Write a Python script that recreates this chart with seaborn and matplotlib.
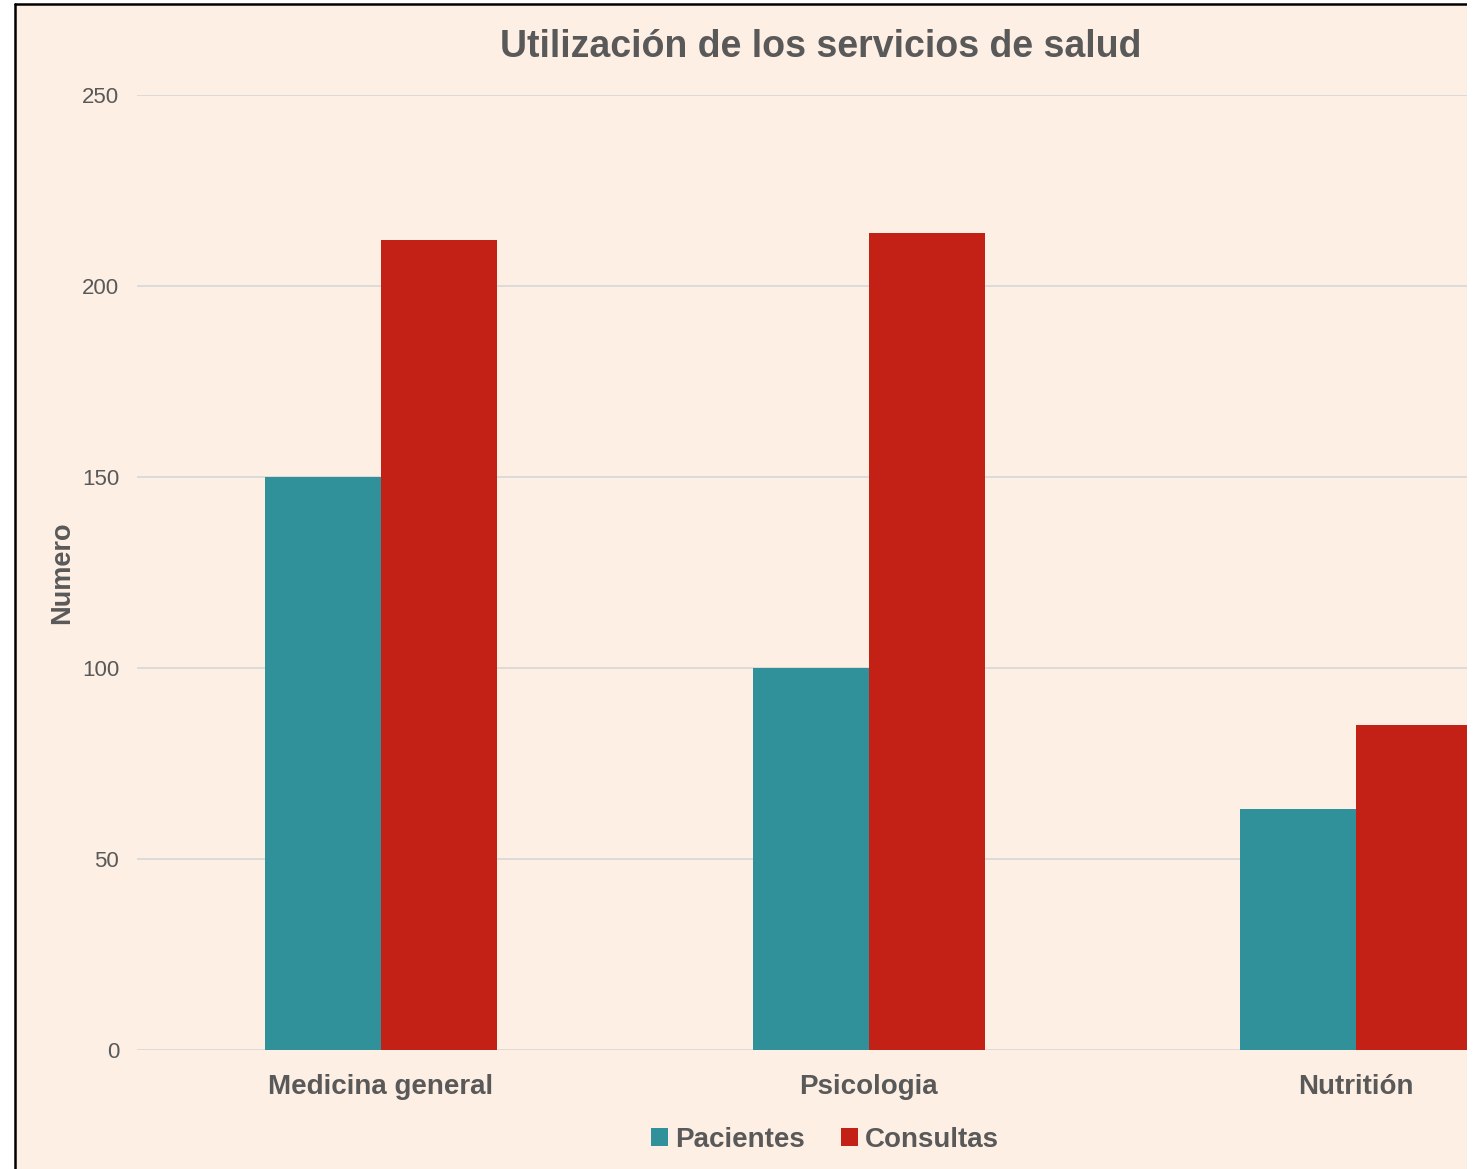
import seaborn as sns
import matplotlib.pyplot as plt
import pandas as pd
from matplotlib.patches import Rectangle, Patch
from matplotlib.lines import Line2D

#### data
servicios = ["Medicina general", "Psicologia", "Nutritión"]
pacientes = [150, 100, 63]
consultas = [212, 214, 85]
series = ["Pacientes", "Consultas"]
yticks = [0, 50, 100, 150, 200, 250]

#### style
bg = "#FDEFE4"
gris = "#595959"
colores = ["#31919A", "#C42116"]

sns.set_theme(style="white")
plt.rcParams['font.family'] = ['Liberation Sans', 'DejaVu Sans']

df = pd.DataFrame({
    "servicio": servicios * 2,
    "valor": pacientes + consultas,
    "serie": [series[0]] * len(servicios) + [series[1]] * len(servicios),
})

W, H = 1473, 1169
fig = plt.figure(figsize=(W / 100, H / 100), dpi=100, facecolor="white")

# chart background + border (left/top only, the rest is cropped)
fig.patches.append(Rectangle((16 / W, 0), (1467 - 16) / W, 1 - 5 / H,
                             transform=fig.transFigure, facecolor=bg,
                             edgecolor="none", zorder=-5))
fig.lines.append(Line2D([15 / W, 15 / W], [0, 1 - 4 / H], transform=fig.transFigure,
                        color="black", lw=1.8, zorder=-4))
fig.lines.append(Line2D([15 / W, 1467 / W], [1 - 4 / H, 1 - 4 / H], transform=fig.transFigure,
                        color="black", lw=1.8, zorder=-4))

# axes extend past the right edge (original chart was cropped)
left = 137.25 / W
right = 1600 / W
bottom = 1 - 1050 / H
top = 1 - 95 / H
ax = fig.add_axes([left, bottom, right - left, top - bottom])
ax.set_facecolor("none")

sns.barplot(data=df, x="servicio", y="valor", hue="serie", palette=colores,
            width=0.476, saturation=1, legend=False, linewidth=0, ax=ax, zorder=3)

ax.set_xlim(-0.5, 2.5)
ax.set_ylim(0, 250)
ax.set_yticks(yticks)
ax.yaxis.grid(True, color="#D9D9D9", lw=1.3, zorder=0)
ax.set_axisbelow(True)
for s in ax.spines.values():
    s.set_visible(False)
ax.tick_params(axis="y", length=0, pad=13, labelsize=16, labelcolor=gris)
ax.tick_params(axis="x", length=0, pad=17, labelcolor=gris)
for lb in ax.get_xticklabels():
    lb.set_fontsize(20)
    lb.set_fontweight("bold")
ax.set_xlabel("")
ax.set_ylabel("")

fig.text(62 / W, 1 - 573 / H, "Numero", rotation=90, ha="center", va="center",
         fontsize=19.5, fontweight="bold", color=gris)
fig.text(821 / W, 1 - 47 / H, "Utilización de los servicios de salud", ha="center",
         va="center", fontsize=27, fontweight="bold", color=gris)

handles = [Patch(facecolor=c, edgecolor="none") for c in colores]
fig.legend(handles, series, loc="center", bbox_to_anchor=(825 / W, 1 - 1140 / H),
           ncol=2, frameon=False, handlelength=0.6, handleheight=0.6,
           handletextpad=0.25, columnspacing=1.3,
           prop={"size": 20, "weight": "bold"}, labelcolor=gris)

# white strip on the right, where the original image was cut
fig.patches.append(Rectangle((1467 / W, 0), 1, 1, transform=fig.transFigure,
                             facecolor="white", edgecolor="none", zorder=10))

fig.savefig("out.png", dpi=100, facecolor="white")
